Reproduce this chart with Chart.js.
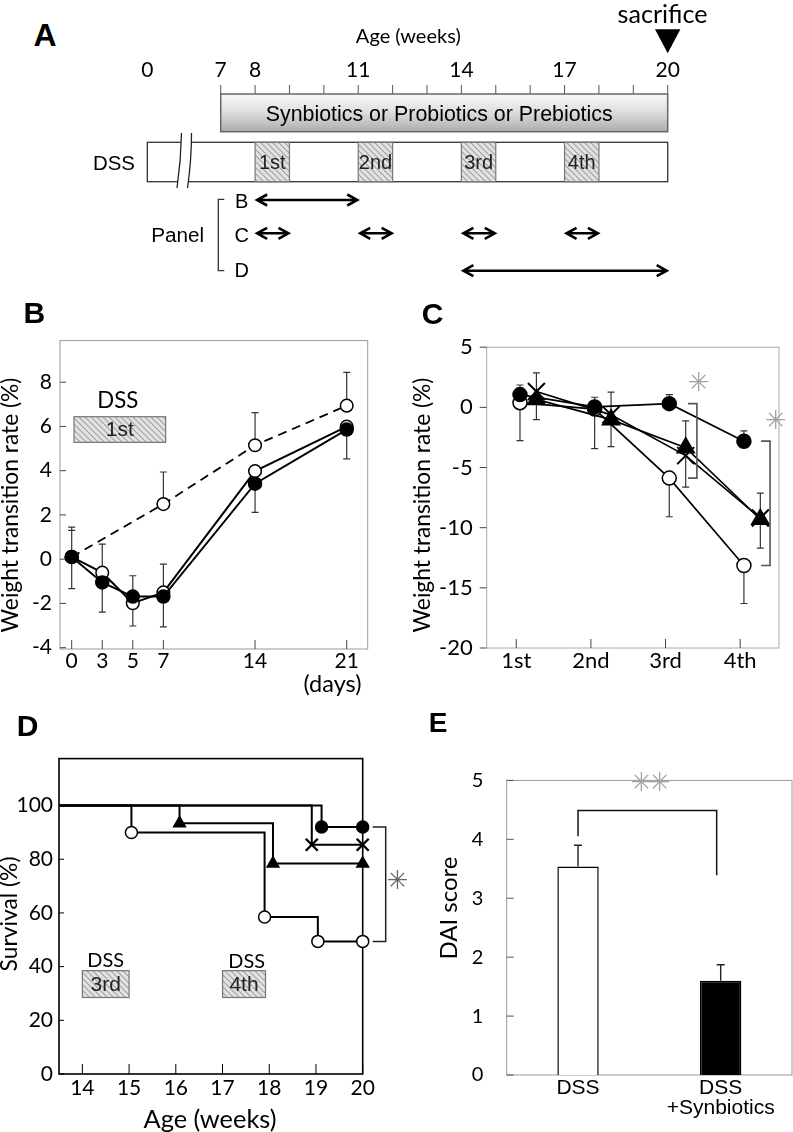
<!DOCTYPE html>
<html>
<head>
<meta charset="utf-8">
<title>Synbiotics / DSS figure</title>
<script src="https://cdn.jsdelivr.net/npm/chart.js@4.4.1/dist/chart.umd.min.js"></script>
<style>
  body { margin: 0; background: #fff; }
  #page { position: relative; width: 793px; height: 1132px; overflow: hidden; background: #fff; }
  #page canvas { position: absolute; }
  .t { position: absolute; white-space: nowrap; line-height: 1; color: #000; }
</style>
</head>
<body>
<div id="page"></div>
<script>
// ---------- data ----------
// Panel A: schedule, age in weeks
const aWeekTicks = [7, 8, 9, 10, 11, 12, 13, 14, 15, 16, 17, 18, 19, 20];
const aWeekLabels = [7, 8, 11, 14, 17, 20];
const aTreatment = [7, 20];
const aDssPeriods = [[8, 9], [11, 12], [14, 15], [17, 18]];
const aDssNames = ['1st', '2nd', '3rd', '4th'];
const aPanelB = [[8, 11]];
const aPanelC = [[8, 9], [11, 12], [14, 15], [17, 18]];
const aPanelD = [[14, 20]];
const aSacrifice = 20;

// Panel B: weight transition rate (%) around the 1st DSS cycle, days
const bDays = ['0', '3', '5', '7', '', '', '14', '', '', '21'];
const bDssWindow = ['0', '7'];
const bNoDss = [0.1, null, null, 2.49, null, null, 5.15, null, null, 6.94];
const bNoDssSd = [1.35, null, null, 1.45, null, null, 1.47, null, null, 1.5];
const bOpen = [0.1, -0.61, -1.99, -1.5, null, null, 3.98, null, null, 5.99];
const bOpenSd = [1.2, 1.29, 1.24, 1.28, null, null, null, null, null, null];
const bFilled = [0.1, -1.05, -1.69, -1.69, null, null, 3.41, null, null, 5.86];
const bFilledSd = [1.43, 1.34, 1.33, 1.37, null, null, 1.29, null, null, 1.33];
const bYTicks = [-4, -2, 0, 2, 4, 6, 8];

// Panel C: weight transition rate (%) per DSS cycle
const cRounds = ['1st', '2nd', '3rd', '4th'];
const cFilled = [1.06, 0.04, 0.31, -2.81];
const cFilledUp = [0.8, 0.8, 0.75, 0.85];
const cOpen = [0.39, -0.14, -5.88, -13.14];
const cOpenLow = [3.15, 3.29, 3.21, 3.16];
const cTriangle = [0.66, -1.02, -3.35, -9.3];
const cTriangleUp = [null, null, 2.22, 2.17];
const cTriangleLow = [1.68, 2.25, null, null];
const cCross = [1.32, -0.62, -4.01, -9.2];
const cCrossUp = [1.55, 1.89, null, null];
const cCrossLow = [null, null, 2.62, 2.5];
const cYTicks = [-20, -15, -10, -5, 0, 5];

// Panel D: survival (%) by age (weeks)
const dOpenWeeks = [13.5, 15.05, 17.9, 19.04, 20];
const dOpenSurv = [100, 90, 58.5, 49.4, 49.4];
const dTriWeeks = [13.5, 16.08, 18.08, 20];
const dTriSurv = [100, 93.4, 78.4, 78.4];
const dCrossWeeks = [13.5, 18.91, 20];
const dCrossSurv = [100, 85.4, 85.4];
const dFilledWeeks = [13.5, 19.12, 20];
const dFilledSurv = [100, 92, 92];
const dXTicks = [14, 15, 16, 17, 18, 19, 20];
const dYTicks = [0, 20, 40, 60, 80, 100];
const dDss = [[14, 15], [17, 17.92]];
const dDssNames = ['3rd', '4th'];

// Panel E: DAI score
const eGroups = [['DSS'], ['DSS', '+Synbiotics']];
const eDai = [3.54, 1.6];
const eDaiSd = [0.36, 0.27];
const eYTicks = [0, 1, 2, 3, 4, 5];

// ---------- layout ----------
const A_ZERO = 4.865;   // where the broken axis puts age 0
const A_ROWS = { tick: 85, treat: [94, 131.7], dss: [142.3, 181.7], brk: [133, 188], b: 200, c: 233.3, d: 270.7, bracket: [199.3, 270.7] };
const B_BOX = { top: 6.44, bottom: 5.28 };
const C_SHIFT = { circle: 0.05, marker: 0.27 };
const C_BRACKETS = [{ round: 2, dx: 0.42, stub: 0.12 }, { round: 3, dx: 0.4, stub: 0.12 }];
const D_BOX = { top: 38.5, bottom: 28.5 };
const E_BRACKET = { top: 4.49, leftFoot: 4.05, rightFoot: 3.39 };

Chart.defaults.font.family = 'Lato';
Chart.defaults.color = '#000';

const page = document.getElementById('page');

function chartCanvas(x, y, w, h) {
    const c = document.createElement('canvas');
    c.width = w;
    c.height = h;
    c.style.left = x + 'px';
    c.style.top = y + 'px';
    c.style.width = w + 'px';
    c.style.height = h + 'px';
    page.appendChild(c);
    return c;
}

const measure = document.createElement('canvas').getContext('2d');
function text(str, x, y, o = {}) {
    const el = document.createElement('div');
    el.className = 't';
    el.textContent = str;
    const family = o.f || 'Lato';
    const weight = o.w || 'normal';
    let size = o.s || 20;
    if (o.fit) {
        measure.font = `${weight} 100px ${family}`;
        size = 100 * o.fit / measure.measureText(str).width;
    }
    el.style.left = x + 'px';
    el.style.top = y + 'px';
    el.style.font = `${weight} ${size.toFixed(2)}px ${family}`;
    el.style.color = o.c || '#000';
    el.style.transform = 'translate(-50%, -50%)' + (o.r ? ' rotate(-90deg)' : '');
    page.appendChild(el);
}

function pts(values, up, low, shift = 0) {
    const out = [];
    values.forEach((v, i) => {
        if (v === null) return;
        out.push({ x: i + shift, y: v, up: up ? up[i] : null, low: low ? low[i] : null });
    });
    return out;
}

function steps(weeks, surv) {
    return weeks.map((w, i) => ({ x: w, y: surv[i] }));
}

function hatchPattern(ctx) {
    const c = document.createElement('canvas');
    c.width = 6;
    c.height = 6;
    const g = c.getContext('2d');
    g.fillStyle = '#e2e2e2';
    g.fillRect(0, 0, 6, 6);
    g.strokeStyle = '#a4a4a4';
    g.lineWidth = 1.2;
    g.beginPath();
    g.moveTo(-1, -1); g.lineTo(7, 7);
    g.moveTo(-4, 2); g.lineTo(4, 10);
    g.moveTo(2, -4); g.lineTo(10, 4);
    g.stroke();
    return ctx.createPattern(c, 'repeat');
}

function hatchBox(ctx, x0, y0, x1, y1, label, font) {
    ctx.save();
    ctx.fillStyle = hatchPattern(ctx);
    ctx.fillRect(x0, y0, x1 - x0, y1 - y0);
    ctx.strokeStyle = '#777';
    ctx.lineWidth = 1.2;
    ctx.strokeRect(x0, y0, x1 - x0, y1 - y0);
    ctx.fillStyle = '#222';
    ctx.font = font;
    ctx.textAlign = 'center';
    ctx.textBaseline = 'middle';
    ctx.fillText(label, (x0 + x1) / 2, (y0 + y1) / 2 + 1);
    ctx.restore();
}

function arrow(ctx, x0, x1, y) {
    ctx.beginPath();
    ctx.moveTo(x0, y); ctx.lineTo(x1, y);
    ctx.moveTo(x0 + 10, y - 5.5); ctx.lineTo(x0, y); ctx.lineTo(x0 + 10, y + 5.5);
    ctx.moveTo(x1 - 10, y - 5.5); ctx.lineTo(x1, y); ctx.lineTo(x1 - 10, y + 5.5);
    ctx.stroke();
}

// ---------- plugins ----------
const frame = {
    id: 'frame',
    beforeDatasetsDraw(chart, args, o) {
        if (!o.color) return;
        const { ctx, chartArea: a, scales } = chart;
        ctx.save();
        ctx.strokeStyle = o.color;
        ctx.lineWidth = o.width || 1;
        ctx.strokeRect(a.left, a.top, a.right - a.left, a.bottom - a.top);
        ctx.strokeStyle = o.tickColor || o.color;
        ctx.lineWidth = 1;
        ctx.beginPath();
        if (o.xTick) {
            scales.x.ticks.forEach((t, i) => {
                const px = scales.x.getPixelForTick(i);
                ctx.moveTo(px, a.bottom);
                ctx.lineTo(px, a.bottom - o.xTick);
            });
        }
        if (o.yTick) {
            scales.y.ticks.forEach((t, i) => {
                const py = scales.y.getPixelForTick(i);
                ctx.moveTo(a.left, py);
                ctx.lineTo(a.left + o.yTick, py);
            });
        }
        ctx.stroke();
        ctx.restore();
    }
};

const errorBars = {
    id: 'errorBars',
    beforeDatasetsDraw(chart, args, o) {
        const { ctx } = chart;
        const cap = o.cap || 3.5;
        ctx.save();
        ctx.strokeStyle = o.color || '#333';
        ctx.lineWidth = o.width || 1.2;
        ctx.beginPath();
        chart.data.datasets.forEach((ds, di) => {
            const meta = chart.getDatasetMeta(di);
            const ys = chart.scales[meta.yAxisID];
            meta.data.forEach((el, i) => {
                const raw = ds.data[i];
                const isObj = typeof raw === 'object';
                const v = isObj ? raw.y : raw;
                const up = isObj ? raw.up : (ds.errUp || [])[i];
                const low = isObj ? raw.low : (ds.errLow || [])[i];
                [[up, 1], [low, -1]].forEach(([e, s]) => {
                    if (e === null || e === undefined) return;
                    const py = ys.getPixelForValue(v + s * e);
                    ctx.moveTo(el.x, el.y);
                    ctx.lineTo(el.x, py);
                    ctx.moveTo(el.x - cap, py);
                    ctx.lineTo(el.x + cap, py);
                });
            });
        });
        ctx.stroke();
        ctx.restore();
    }
};

const schedule = {
    id: 'schedule',
    afterDraw(chart) {
        const { ctx } = chart;
        const x = (w) => chart.scales.x.getPixelForValue(w);
        ctx.save();

        ctx.strokeStyle = '#555';
        ctx.lineWidth = 1;
        ctx.beginPath();
        aWeekTicks.forEach((w) => {
            ctx.moveTo(x(w), A_ROWS.tick);
            ctx.lineTo(x(w), A_ROWS.treat[0]);
        });
        ctx.stroke();

        const [t0, t1] = A_ROWS.treat;
        const grad = ctx.createLinearGradient(0, t0, 0, t1);
        grad.addColorStop(0, '#f8f8f8');
        grad.addColorStop(0.45, '#e0e0e0');
        grad.addColorStop(1, '#adadad');
        ctx.fillStyle = grad;
        ctx.fillRect(x(aTreatment[0]), t0, x(aTreatment[1]) - x(aTreatment[0]), t1 - t0);
        ctx.strokeStyle = '#666';
        ctx.lineWidth = 1.5;
        ctx.strokeRect(x(aTreatment[0]), t0, x(aTreatment[1]) - x(aTreatment[0]), t1 - t0);

        const [d0, d1] = A_ROWS.dss;
        ctx.fillStyle = '#fff';
        ctx.fillRect(x(A_ZERO), d0, x(aSacrifice) - x(A_ZERO), d1 - d0);
        ctx.strokeStyle = '#333';
        ctx.lineWidth = 1.3;
        ctx.strokeRect(x(A_ZERO), d0, x(aSacrifice) - x(A_ZERO), d1 - d0);
        aDssPeriods.forEach(([s, e], i) => hatchBox(ctx, x(s), d0, x(e), d1, aDssNames[i], '20px "Liberation Sans"'));

        // axis break in the DSS row
        const bx = (x(A_ZERO) + x(aTreatment[0])) / 2;
        const [k0, k1] = A_ROWS.brk;
        const km = (k0 + k1) / 2;
        ctx.fillStyle = '#fff';
        ctx.beginPath();
        ctx.moveTo(bx - 2.5, k0);
        ctx.quadraticCurveTo(bx - 3, km, bx - 7, k1);
        ctx.lineTo(bx + 3.5, k1);
        ctx.quadraticCurveTo(bx + 7.5, km, bx + 7.5, k0);
        ctx.closePath();
        ctx.fill();
        ctx.strokeStyle = '#222';
        ctx.lineWidth = 1.3;
        ctx.beginPath();
        ctx.moveTo(bx - 2.5, k0);
        ctx.quadraticCurveTo(bx - 3, km, bx - 7, k1);
        ctx.moveTo(bx + 7.5, k0);
        ctx.quadraticCurveTo(bx + 7.5, km, bx + 3.5, k1);
        ctx.stroke();

        // which weeks each panel covers
        ctx.strokeStyle = '#000';
        ctx.lineWidth = 2.6;
        [[aPanelB, A_ROWS.b], [aPanelC, A_ROWS.c], [aPanelD, A_ROWS.d]].forEach(([spans, y]) => {
            spans.forEach(([s, e]) => arrow(ctx, x(s) + 2, x(e) - 1, y));
        });

        const px = x(aTreatment[0]) - 2.4;
        ctx.strokeStyle = '#333';
        ctx.lineWidth = 1.3;
        ctx.beginPath();
        ctx.moveTo(px + 6, A_ROWS.bracket[0]);
        ctx.lineTo(px, A_ROWS.bracket[0]);
        ctx.lineTo(px, A_ROWS.bracket[1]);
        ctx.lineTo(px + 6, A_ROWS.bracket[1]);
        ctx.stroke();

        const sx = x(aSacrifice);
        ctx.fillStyle = '#000';
        ctx.beginPath();
        ctx.moveTo(sx - 12.7, 29.3);
        ctx.lineTo(sx + 12.7, 29.3);
        ctx.lineTo(sx, 53.3);
        ctx.closePath();
        ctx.fill();
        ctx.restore();
    }
};

const bDssMark = {
    id: 'bDssMark',
    afterDatasetsDraw(chart) {
        const { ctx, scales: { x, y } } = chart;
        hatchBox(ctx,
            x.getPixelForValue(bDays.indexOf(bDssWindow[0])) + 2.3, y.getPixelForValue(B_BOX.top),
            x.getPixelForValue(bDays.indexOf(bDssWindow[1])) + 2.3, y.getPixelForValue(B_BOX.bottom),
            aDssNames[0], '21px "Liberation Sans"');
    }
};

const cBrackets = {
    id: 'cBrackets',
    afterDatasetsDraw(chart) {
        const { ctx, scales: { x, y } } = chart;
        ctx.save();
        ctx.strokeStyle = '#555';
        ctx.lineWidth = 1.6;
        C_BRACKETS.forEach((b) => {
            const xv = x.getPixelForValue(b.round + b.dx);
            const xs = x.getPixelForValue(b.round + b.dx - b.stub);
            const y0 = y.getPixelForValue(cFilled[b.round]);
            const y1 = y.getPixelForValue(cOpen[b.round]);
            ctx.beginPath();
            ctx.moveTo(xs, y0);
            ctx.lineTo(xv, y0);
            ctx.lineTo(xv, y1);
            ctx.lineTo(xs, y1);
            ctx.stroke();
        });
        ctx.restore();
    }
};

const dMarks = {
    id: 'dMarks',
    afterDatasetsDraw(chart) {
        const { ctx, scales: { x, y } } = chart;
        dDss.forEach(([s, e], i) => hatchBox(ctx,
            x.getPixelForValue(s), y.getPixelForValue(D_BOX.top),
            x.getPixelForValue(e), y.getPixelForValue(D_BOX.bottom),
            dDssNames[i], '21px "Liberation Sans"'));
        const edge = x.getPixelForValue(dXTicks[dXTicks.length - 1]);
        const y0 = y.getPixelForValue(dFilledSurv[dFilledSurv.length - 1]);
        const y1 = y.getPixelForValue(dOpenSurv[dOpenSurv.length - 1]);
        ctx.save();
        ctx.strokeStyle = '#222';
        ctx.lineWidth = 1.5;
        ctx.beginPath();
        ctx.moveTo(edge + 10, y0);
        ctx.lineTo(edge + 23, y0);
        ctx.lineTo(edge + 23, y1);
        ctx.lineTo(edge + 10, y1);
        ctx.stroke();
        ctx.restore();
    }
};

const eBracket = {
    id: 'eBracket',
    afterDatasetsDraw(chart) {
        const { ctx, scales: { y } } = chart;
        const bars = chart.getDatasetMeta(0).data;
        const x0 = bars[0].x;
        const x1 = bars[1].x - 4;
        ctx.save();
        ctx.strokeStyle = '#111';
        ctx.lineWidth = 1.5;
        ctx.beginPath();
        ctx.moveTo(x0, y.getPixelForValue(E_BRACKET.leftFoot));
        ctx.lineTo(x0, y.getPixelForValue(E_BRACKET.top));
        ctx.lineTo(x1, y.getPixelForValue(E_BRACKET.top));
        ctx.lineTo(x1, y.getPixelForValue(E_BRACKET.rightFoot));
        ctx.stroke();
        ctx.restore();
    }
};

// ---------- shared options ----------
const base = {
    responsive: false,
    maintainAspectRatio: false,
    animation: false,
    events: [],
};
const quiet = { legend: { display: false }, tooltip: { enabled: false } };
const noGrid = { display: false, drawTicks: false };
const tickList = (values) => (s) => { s.ticks = values.map((v) => ({ value: v })); };

function marker(style, radius, fill) {
    return {
        borderColor: '#000',
        pointStyle: style,
        pointRadius: radius,
        pointBackgroundColor: fill,
        pointBorderColor: '#000',
        pointBorderWidth: 1.5,
        showLine: true,
        tension: 0,
        clip: false,
    };
}

// ---------- panel A ----------
new Chart(chartCanvas(100, 0, 693, 290), {
    type: 'scatter',
    data: { datasets: [] },
    options: {
        ...base,
        layout: { padding: { left: 47.3, right: 125.3, top: 0, bottom: 0 } },
        plugins: quiet,
        scales: {
            x: {
                type: 'linear', position: 'top', min: A_ZERO, max: aSacrifice,
                afterBuildTicks: tickList([A_ZERO, ...aWeekTicks]),
                afterFit: (s) => { s.height = A_ROWS.treat[0]; },
                grid: noGrid, border: { display: false },
                ticks: {
                    autoSkip: false, maxRotation: 0, padding: 11, font: { size: 21 },
                    callback: (v) => (v === A_ZERO ? '0' : (aWeekLabels.includes(v) ? String(v) : '')),
                },
            },
            y: { display: false, min: 0, max: 1 },
        },
    },
    plugins: [schedule],
});

// ---------- panel B ----------
new Chart(chartCanvas(0, 320, 400, 380), {
    type: 'scatter',
    data: {
        datasets: [
            { ...marker('circle', 6.5, '#000'), data: pts(bFilled, null, bFilledSd), borderWidth: 2 },
            { ...marker('circle', 6.3, '#fff'), data: pts(bOpen, bOpenSd, null), borderWidth: 2 },
            { ...marker('circle', 6.3, '#fff'), data: pts(bNoDss, bNoDssSd, null), borderWidth: 1.8, borderDash: [9, 6] },
        ],
    },
    options: {
        ...base,
        layout: { padding: { left: 0, right: 32.3, top: 17, bottom: 0 } },
        plugins: {
            ...quiet,
            frame: { color: '#9a9a9a', width: 1, tickColor: '#444', xTick: 9, yTick: 6 },
            errorBars: { color: '#333', width: 1.2, cap: 3.5 },
        },
        scales: {
            x: {
                type: 'linear', min: -0.383, max: 9.687,
                afterBuildTicks: tickList(bDays.map((d, i) => (d ? i : null)).filter((v) => v !== null)),
                afterFit: (s) => { s.height = 51; },
                grid: noGrid, border: { display: false },
                ticks: { autoSkip: false, maxRotation: 0, padding: 0, font: { size: 21 }, callback: (v) => bDays[v] },
            },
            y: {
                type: 'linear', min: -4.06, max: 9.88,
                afterBuildTicks: tickList(bYTicks),
                afterFit: (s) => { s.width = 60; },
                grid: noGrid, border: { display: false },
                ticks: { padding: 8, font: { size: 21 } },
            },
        },
    },
    plugins: [frame, errorBars, bDssMark],
});

// ---------- panel C ----------
new Chart(chartCanvas(400, 320, 393, 380), {
    type: 'scatter',
    data: {
        datasets: [
            { ...marker('circle', 7, '#000'), data: pts(cFilled, cFilledUp, null, C_SHIFT.circle), borderWidth: 1.7 },
            { ...marker('triangle', 10, '#000'), data: pts(cTriangle, cTriangleUp, cTriangleLow, C_SHIFT.marker), borderWidth: 1.7 },
            { ...marker('crossRot', 12, '#000'), data: pts(cCross, cCrossUp, cCrossLow, C_SHIFT.marker), borderWidth: 1.7, pointBorderWidth: 2 },
            { ...marker('circle', 7, '#fff'), data: pts(cOpen, null, cOpenLow, C_SHIFT.circle), borderWidth: 1.7 },
        ],
    },
    options: {
        ...base,
        layout: { padding: { left: 0, right: 4, top: 15.7, bottom: 0 } },
        plugins: {
            ...quiet,
            frame: { color: '#aaa', width: 1, tickColor: '#444', xTick: 9, yTick: -7 },
            errorBars: { color: '#333', width: 1.2, cap: 3.5 },
        },
        scales: {
            x: {
                type: 'linear', min: -0.396, max: 3.52,
                afterBuildTicks: tickList(cRounds.map((r, i) => i)),
                afterFit: (s) => { s.height = 52; },
                grid: noGrid, border: { display: false },
                ticks: { autoSkip: false, maxRotation: 0, padding: 0, font: { size: 22 }, callback: (v) => cRounds[v] },
            },
            y: {
                type: 'linear', min: -20, max: 5,
                afterBuildTicks: tickList(cYTicks),
                afterFit: (s) => { s.width = 86.7; },
                grid: noGrid, border: { display: false },
                ticks: { padding: 14, font: { size: 22 } },
            },
        },
    },
    plugins: [frame, errorBars, cBrackets],
});

// ---------- panel D ----------
const stepStyle = { stepped: 'before', borderWidth: 2 };
const hideFirst = (r) => (ctx) => (ctx.dataIndex === 0 ? 0 : r);
new Chart(chartCanvas(0, 740, 420, 370), {
    type: 'scatter',
    data: {
        datasets: [
            { ...marker('circle', 6, '#000'), ...stepStyle, data: steps(dFilledWeeks, dFilledSurv), pointRadius: hideFirst(6) },
            { ...marker('crossRot', 8.5, '#000'), ...stepStyle, data: steps(dCrossWeeks, dCrossSurv), pointRadius: hideFirst(8.5), pointBorderWidth: 2.4 },
            { ...marker('triangle', 6.8, '#000'), ...stepStyle, data: steps(dTriWeeks, dTriSurv), pointRadius: hideFirst(6.8) },
            { ...marker('circle', 6, '#fff'), ...stepStyle, data: steps(dOpenWeeks, dOpenSurv), pointRadius: hideFirst(6) },
        ],
    },
    options: {
        ...base,
        layout: { padding: { left: 0, right: 57.3, top: 16.7, bottom: 0 } },
        plugins: {
            ...quiet,
            frame: { color: '#000', width: 1.6, tickColor: '#000', xTick: 10, yTick: 5 },
        },
        scales: {
            x: {
                type: 'linear', min: dOpenWeeks[0], max: dXTicks[dXTicks.length - 1],
                afterBuildTicks: tickList(dXTicks),
                afterFit: (s) => { s.height = 36; },
                grid: noGrid, border: { display: false },
                ticks: { autoSkip: false, maxRotation: 0, padding: 1.7, font: { size: 21 } },
            },
            y: {
                type: 'linear', min: 0, max: 117.5,
                afterBuildTicks: tickList(dYTicks),
                afterFit: (s) => { s.width = 59; },
                grid: noGrid, border: { display: false },
                ticks: { padding: 6, font: { size: 21 } },
            },
        },
    },
    plugins: [frame, dMarks],
});

// ---------- panel E ----------
new Chart(chartCanvas(420, 745, 373, 380), {
    type: 'bar',
    data: {
        labels: eGroups,
        datasets: [{
            data: eDai,
            errUp: eDaiSd,
            backgroundColor: ['#fff', '#000'],
            borderColor: '#000',
            borderWidth: 1.5,
            barPercentage: 0.29,
            categoryPercentage: 1,
        }],
    },
    options: {
        ...base,
        layout: { padding: { left: 0, right: 1, top: 19, bottom: 0 } },
        plugins: {
            ...quiet,
            frame: { color: '#9a9a9a', width: 1, tickColor: '#555', yTick: 7 },
            errorBars: { color: '#222', width: 1.4, cap: 4 },
        },
        scales: {
            x: {
                afterFit: (s) => { s.height = 50; },
                grid: noGrid, border: { display: false },
                ticks: { padding: 3.5, font: { family: 'Liberation Sans', size: 21, lineHeight: 0.93 } },
            },
            y: {
                type: 'linear', min: 0, max: 5,
                afterBuildTicks: tickList(eYTicks),
                afterFit: (s) => { s.width = 86.7; },
                grid: noGrid, border: { display: false },
                ticks: { padding: 23.4, font: { size: 20 } },
            },
        },
    },
    plugins: [frame, errorBars, eBracket],
});

// ---------- text ----------
const LS = '"Liberation Sans"';
const STAR = { f: '"DejaVu Sans"', s: 26, c: '#a2a2a2' };

text('A', 45, 35, { f: LS, w: 'bold', s: 32 });
text('Age (weeks)', 408.3, 35, { fit: 105 });
text('sacrifice', 662.5, 12.5, { fit: 90 });
text('Synbiotics or Probiotics or Prebiotics', 439.2, 114.3, { f: LS, fit: 347 });
text('DSS', 114, 162.7, { f: LS, fit: 42 });
text('Panel', 177.7, 235, { f: LS, fit: 53 });
text('B', 241.7, 201, { f: LS, s: 20 });
text('C', 241.7, 235, { f: LS, s: 20 });
text('D', 241.7, 270, { f: LS, s: 20 });

text('B', 34.3, 312.5, { f: LS, w: 'bold', s: 30 });
text('Weight transition rate (%)', 9, 505, { fit: 255, r: true });
text('(days)', 332.5, 683.3, { fit: 58 });
text('DSS', 117.8, 399.3, { fit: 41 });

text('C', 432.5, 314, { f: LS, w: 'bold', s: 30 });
text('Weight transition rate (%)', 421, 505, { fit: 255, r: true });
text('\u2733', 699, 381.7, STAR);
text('\u2733', 776, 420, STAR);

text('D', 27.5, 726, { f: LS, w: 'bold', s: 30 });
text('Survival (%)', 8, 914, { fit: 115, r: true });
text('Age (weeks)', 210, 1118, { fit: 133 });
text('DSS', 105.7, 959, { fit: 36.7 });
text('DSS', 246.7, 960, { fit: 36.7 });
text('\u2733', 397.7, 880, { ...STAR, c: '#666' });

text('E', 438, 723, { f: LS, w: 'bold', s: 28 });
text('DAI score', 447, 908, { fit: 103, r: true });
text('\u2733', 641.7, 781.7, STAR);
text('\u2733', 660, 781.7, STAR);
</script>
</body>
</html>
